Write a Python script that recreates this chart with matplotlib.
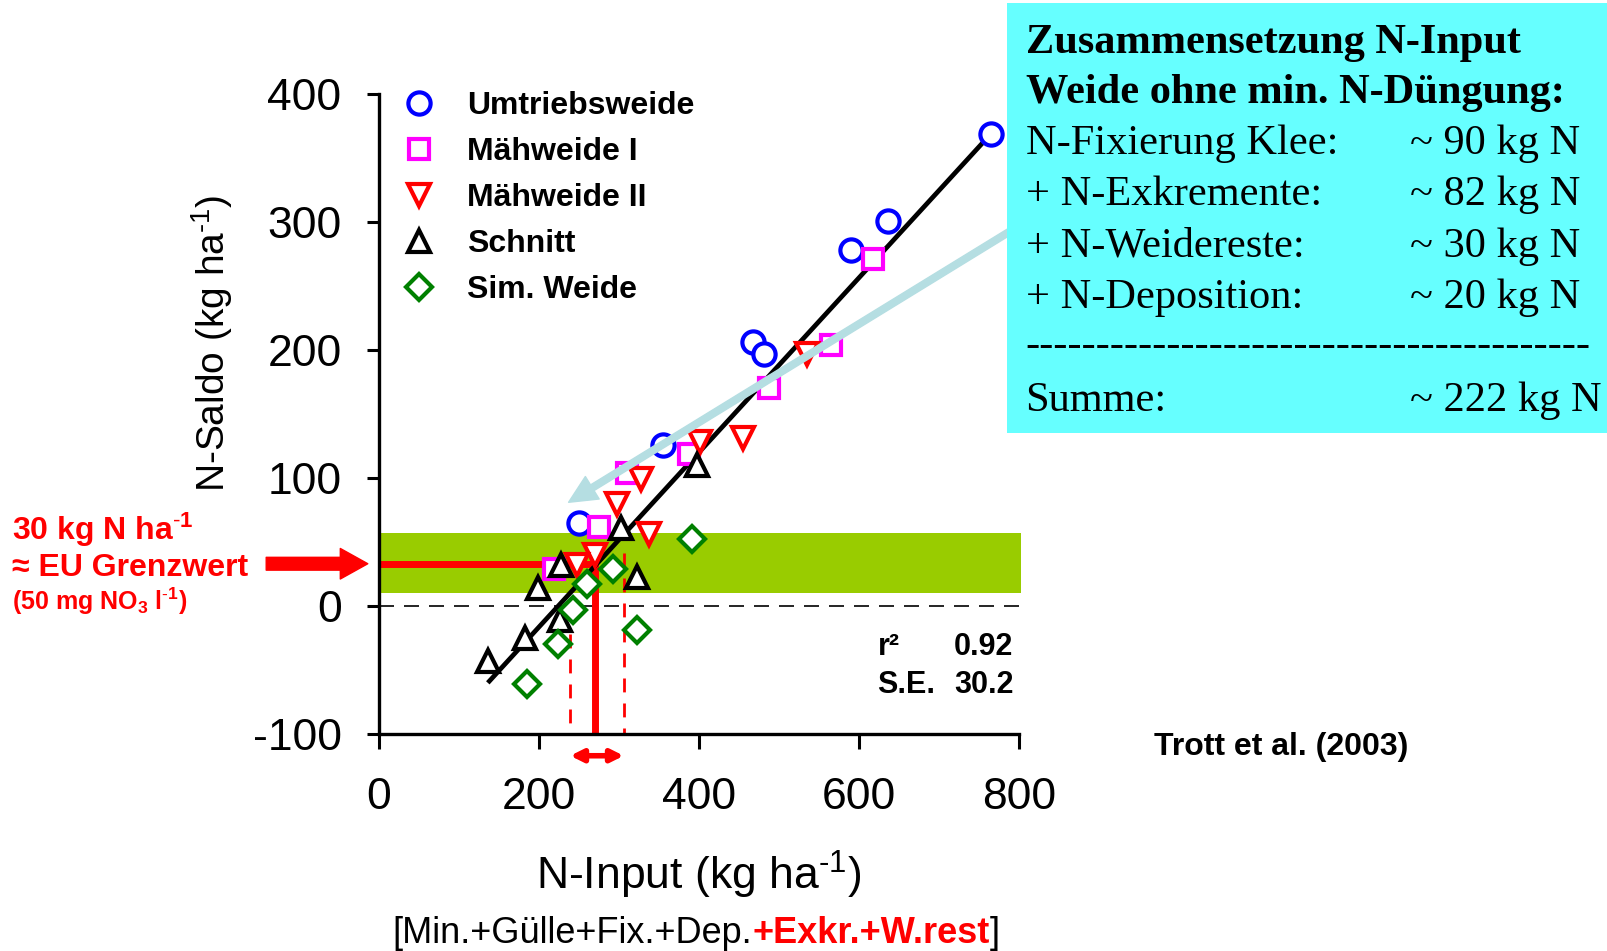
import numpy as np
import matplotlib
matplotlib.use('Agg')
import matplotlib.pyplot as plt
from matplotlib.patches import Rectangle

plt.rcParams['font.family'] = ['Liberation Sans', 'DejaVu Sans']
plt.rcParams['mathtext.fontset'] = 'custom'
plt.rcParams['mathtext.rm'] = 'Liberation Sans'
plt.rcParams['mathtext.bf'] = 'Liberation Sans:bold'
plt.rcParams['mathtext.default'] = 'regular'
plt.rcParams['axes.unicode_minus'] = False

# N-Input (kg/ha) and N-Saldo (kg/ha) per system
umtrieb_x = [765, 636, 590, 468, 481, 355, 250]
umtrieb_y = [369, 301, 278, 206, 197, 126, 65]
maeh1_x = [617, 565, 487, 387, 310, 275, 219]
maeh1_y = [271, 204, 170, 119, 104, 62, 29]
maeh2_x = [535, 455, 401, 328, 297, 337, 270, 247]
maeh2_y = [197, 131, 128, 99, 80, 56, 40, 32]
schnitt_x = [397, 303, 228, 322, 199, 226, 182, 136]
schnitt_y = [110, 61, 32, 23, 14, -11, -25, -43]
sim_x = [391, 292, 260, 242, 322, 224, 185]
sim_y = [52, 29, 17, -3, -19, -30, -61]

# regression line
fit_slope = 0.682
fit_intercept = -152.8
fit_range = [138, 765]

# EU limit band and the input range meeting it
band = [10, 57]
eu_saldo = 33
eu_input = 270
eu_range = [239, 306]

box_rows = ['N-Fixierung Klee:', '+ N-Exkremente:', '+ N-Weidereste:', '+ N-Deposition:']
box_vals = ['~ 90 kg N', '~ 82 kg N', '~ 30 kg N', '~ 20 kg N']

inv = r'$^{\text{-}1}$'

fig = plt.figure(figsize=(16.08, 9.51), dpi=100)
ax = fig.add_axes([0.2357, 0.2282, 0.398, 0.673])

ax.fill_between([0, 803], band[0], band[1], color='#99CC00', lw=0, zorder=1, clip_on=False)
ax.axhline(0, color='black', lw=1.2, dashes=(9, 6), zorder=2)

# red EU markers
ax.plot([0, eu_input], [eu_saldo, eu_saldo], color='red', lw=5, zorder=2, solid_capstyle='butt')
ax.plot([eu_input, eu_input], [eu_saldo, -100], color='red', lw=5, zorder=2, solid_capstyle='butt')
ax.plot([eu_range[0], eu_range[0]], [-22, -100], color='red', lw=2, dashes=(5, 4), zorder=2)
ax.plot([eu_range[1], eu_range[1]], [41, -100], color='red', lw=2, dashes=(5, 4), zorder=2)
ax.annotate('', xy=(eu_range[0], -117), xytext=(eu_range[1], -117),
            arrowprops=dict(arrowstyle='<|-|>', color='red', lw=4, mutation_scale=18,
                            shrinkA=0, shrinkB=0), annotation_clip=False)
ax.annotate('', xy=(-14, eu_saldo), xytext=(-141, eu_saldo),
            arrowprops=dict(arrowstyle='simple,head_length=0.9,head_width=1.0,tail_width=0.42',
                            color='red', mutation_scale=22, shrinkA=0, shrinkB=0),
            annotation_clip=False)

fx = np.array(fit_range)
ax.plot(fx, fit_slope * fx + fit_intercept, color='black', lw=3.4, zorder=4)

mk = dict(linestyle='none', markerfacecolor='white', mew=3, zorder=5)
ax.plot(umtrieb_x, umtrieb_y, marker='o', ms=16, color='#0000FF', label='Umtriebsweide', **mk)
ax.plot(maeh1_x, maeh1_y, marker='s', ms=15, color='#FF00FF', label='Mähweide I', **mk)
ax.plot(maeh2_x, maeh2_y, marker='v', ms=16, color='#FF0000', label='Mähweide II', **mk)
ax.plot(schnitt_x, schnitt_y, marker='^', ms=16, color='black', label='Schnitt', **mk)
ax.plot(sim_x, sim_y, marker='D', ms=13, color='#008000', label='Sim. Weide', **mk)

# light blue arrow from the box
ax.annotate('', xy=(237, 81), xytext=(800, 297),
            arrowprops=dict(arrowstyle='simple,head_length=1.0,head_width=0.95,tail_width=0.24',
                            color='#B5DEE2', mutation_scale=20, shrinkA=0, shrinkB=0),
            annotation_clip=False, zorder=6)

ax.set_xlim(0, 800)
ax.set_ylim(-100, 400)
ax.set_xticks([0, 200, 400, 600, 800])
ax.set_yticks([-100, 0, 100, 200, 300, 400])
for s in ['top', 'right']:
    ax.spines[s].set_visible(False)
for s in ['left', 'bottom']:
    ax.spines[s].set_linewidth(2.4)
ax.tick_params(axis='x', length=11, width=2.2, labelsize=32, pad=20)
ax.tick_params(axis='y', length=9, width=2.2, labelsize=32, pad=18)

ax.set_ylabel('N-Saldo (kg ha' + inv + ')', fontsize=28)
ax.yaxis.set_label_coords(-0.225, 0.61)
ax.set_xlabel('N-Input (kg ha' + inv + ')', fontsize=32)
ax.xaxis.set_label_coords(0.5, -0.18)

ax.legend(loc='upper left', bbox_to_anchor=(0.2505, 0.904), bbox_transform=fig.transFigure,
          frameon=False, borderpad=0, borderaxespad=0, handlelength=1.0, handletextpad=1.0,
          labelspacing=0.5, prop={'weight': 'bold', 'size': 23}, numpoints=1)

ax.text(623, -32, 'r²', fontsize=22, fontweight='bold', va='center')
ax.text(719, -32, '0.92', fontsize=22, fontweight='bold', va='center')
ax.text(623, -62, 'S.E.', fontsize=22, fontweight='bold', va='center')
ax.text(719, -62, '30.2', fontsize=22, fontweight='bold', va='center')

# left annotation
fig.text(0.0077, 0.443, '30 kg N ha' + inv, color='red', fontsize=23, fontweight='bold', va='center')
fig.text(0.0077, 0.403, '≈ EU Grenzwert', color='red', fontsize=23, fontweight='bold', va='center')
fig.text(0.0077, 0.368, '(50 mg NO$_3$ l' + inv + ')', color='red', fontsize=18, fontweight='bold', va='center')

fig.text(0.7175, 0.215, 'Trott et al. (2003)', fontsize=23, fontweight='bold', va='center')

# second x-axis line with red part
t1 = fig.text(0.2443, 0.018, '[Min.+Gülle+Fix.+Dep.', fontsize=26, va='center')
t2 = ax.annotate('+Exkr.+W.rest', xy=(1, 0), xycoords=t1, va='bottom', fontsize=26,
                 color='red', fontweight='bold', annotation_clip=False)
ax.annotate(']', xy=(1, 0), xycoords=t2, va='bottom', fontsize=26, annotation_clip=False)

# info box
fig.patches.append(Rectangle((0.626, 0.545), 0.374, 0.452, transform=fig.transFigure,
                             facecolor='#66FFFF', edgecolor='none', zorder=8, figure=fig))
serif = ['Liberation Serif', 'DejaVu Serif']
fs = 30.5
fig.text(0.6378, 0.955, 'Zusammensetzung N-Input', family=serif, fontsize=fs,
         fontweight='bold', va='center', zorder=9)
fig.text(0.6378, 0.902, 'Weide ohne min. N-Düngung:', family=serif, fontsize=fs,
         fontweight='bold', va='center', zorder=9)
row_y = [0.849, 0.795, 0.741, 0.687]
for lab, val, yy in zip(box_rows, box_vals, row_y):
    fig.text(0.6378, yy, lab, family=serif, fontsize=fs, va='center', zorder=9)
    fig.text(0.877, yy, val, family=serif, fontsize=fs, va='center', zorder=9)
fig.text(0.6378, 0.636, '-' * 40, family=serif, fontsize=fs, va='center', zorder=9)
fig.text(0.6378, 0.579, 'Summe:', family=serif, fontsize=fs, va='center', zorder=9)
fig.text(0.877, 0.579, '~ 222 kg N', family=serif, fontsize=fs, va='center', zorder=9)

fig.savefig('out.png', dpi=100)
